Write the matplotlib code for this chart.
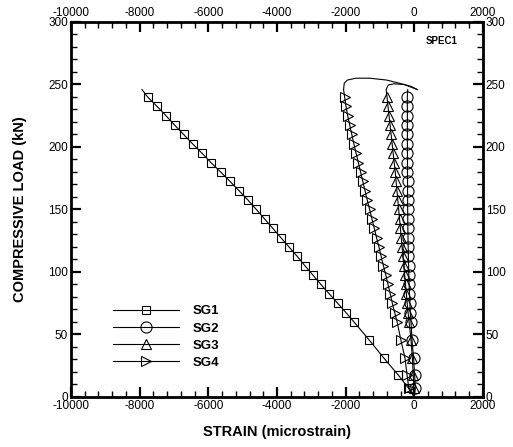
import matplotlib
matplotlib.use("Agg")
import matplotlib.pyplot as plt
from matplotlib.ticker import MultipleLocator

plt.rcParams['font.family'] = ['Liberation Sans', 'DejaVu Sans']
plt.rcParams['axes.unicode_minus'] = False

# Load levels (kN) shared by all gauges
loads = [0, 7, 17.5, 31, 45.5, 60, 67.5, 75, 82.5, 90, 97.5, 105, 112.5, 120, 127.5,
         135, 142.5, 150, 157.5, 165, 172.5, 180, 187.5, 195, 202.5, 210, 217.5,
         225, 232.5, 240]

# Strains (microstrain)
sg1 = [0, -166, -466, -883, -1311, -1756, -1990, -2233, -2476, -2720, -2953, -3186,
       -3411, -3649, -3887, -4125, -4363, -4602, -4844, -5106, -5369, -5642, -5922,
       -6184, -6458, -6720, -6982, -7233, -7495, -7769]
sg2 = [0, 30, 10, -20, -67, -95, -117, -128, -140, -150, -160, -166, -172, -178, -183,
       -187, -190, -193, -195, -196, -197, -198, -198, -199, -200, -200, -201, -201,
       -202, -203]
sg3 = [0, -10, -30, -55, -95, -150, -180, -205, -230, -255, -280, -305, -330, -355,
       -380, -405, -430, -455, -480, -505, -530, -555, -585, -615, -645, -675, -705,
       -735, -765, -795]
sg4 = [0, -160, -210, -270, -390, -500, -570, -640, -700, -765, -830, -900, -965,
       -1030, -1100, -1165, -1235, -1300, -1370, -1435, -1500, -1565, -1630, -1695,
       -1760, -1820, -1880, -1940, -1990, -2030]

# Post-peak tails (no symbols)
sg1_tail_x = [-7933]
sg1_tail_y = [246]
sg2_tail_x = [-190]
sg2_tail_y = [246]
sg3_tail_x = [-820, -760, -600, -300, -100, 80]
sg3_tail_y = [246, 249.5, 250.5, 250, 248.5, 246]
sg4_tail_x = [-2060, -2040, -1950, -1700, -1300, -800, -300, 80]
sg4_tail_y = [246, 251, 253.5, 255, 255, 253.5, 250, 246]

labels = ['SG1', 'SG2', 'SG3', 'SG4']
markers = ['s', 'o', '^', '>']
msizes = [6, 8, 7.5, 7.5]

fig = plt.figure(figsize=(5.13, 4.47), dpi=100)
ax = fig.add_axes([0.1384, 0.1119, 0.803, 0.839])

series = [(sg1, sg1_tail_x, sg1_tail_y), (sg2, sg2_tail_x, sg2_tail_y),
          (sg3, sg3_tail_x, sg3_tail_y), (sg4, sg4_tail_x, sg4_tail_y)]
for (xs, tx, ty), lab, mk, ms in zip(series, labels, markers, msizes):
    x = list(xs) + list(tx)
    y = list(loads) + list(ty)
    ax.plot(x, y, color='black', lw=0.8, marker=mk, markersize=ms,
            markerfacecolor='none', markeredgecolor='black', markeredgewidth=0.8,
            markevery=list(range(1, len(loads))), label=lab)

ax.set_xlim(-10000, 2000)
ax.set_ylim(0, 300)
ax.xaxis.set_major_locator(MultipleLocator(2000))
ax.xaxis.set_minor_locator(MultipleLocator(400))
ax.yaxis.set_major_locator(MultipleLocator(50))
ax.yaxis.set_minor_locator(MultipleLocator(10))
ax.tick_params(which='both', direction='in', top=True, right=True,
               labeltop=True, labelright=True, labelsize=8.5)
ax.tick_params(which='major', length=7, width=1.6, pad=2)
ax.tick_params(which='minor', length=4, width=1.0)
for s in ax.spines.values():
    s.set_linewidth(2)

ax.set_xlabel('STRAIN (microstrain)', fontsize=10.5, fontweight='bold')
ax.set_ylabel('COMPRESSIVE LOAD (kN)', fontsize=10.5, fontweight='bold')
ax.xaxis.set_label_coords(0.5, -0.075)
ax.yaxis.set_label_coords(-0.107, 0.5)

ax.text(0.90, 0.95, 'SPEC1', transform=ax.transAxes, fontsize=7, fontweight='bold',
        ha='center', va='center')

leg = ax.legend(loc='upper left', bbox_to_anchor=(0.102, 0.245), frameon=False,
                borderpad=0, borderaxespad=0, handlelength=5.0, handletextpad=1.0,
                labelspacing=0.38, numpoints=1,
                prop={'weight': 'bold', 'size': 9.5})

fig.savefig('out.png', dpi=100)
